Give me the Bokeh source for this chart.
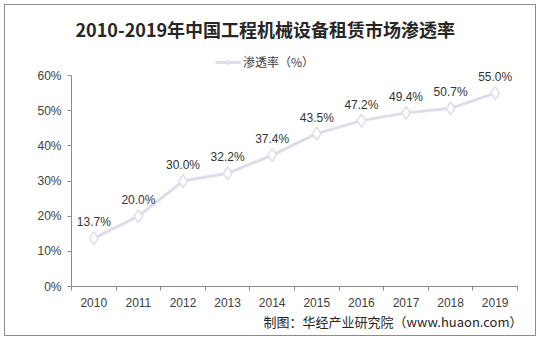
from bokeh.plotting import figure
from bokeh.models import (ColumnDataSource, FixedTicker, NumeralTickFormatter, Range1d,
                          Label, Legend, LegendItem, Title)
from bokeh.embed import file_html
from bokeh.resources import INLINE

years = ["2010", "2011", "2012", "2013", "2014", "2015", "2016", "2017", "2018", "2019"]
rate = [13.7, 20.0, 30.0, 32.2, 37.4, 43.5, 47.2, 49.4, 50.7, 55.0]
title = "2010-2019年中国工程机械设备租赁市场渗透率"
series_name = "渗透率（%）"
source_note = "制图：华经产业研究院（www.huaon.com）"

xs = list(range(len(years)))
src = ColumnDataSource(dict(x=xs, y=[v / 100 for v in rate]))

W, H = 532, 332
TOP = 42
BOTTOM = 51
p = figure(width=W, height=H, output_backend="svg", toolbar_location=None,
           x_range=Range1d(-0.5, len(years) - 0.5), y_range=Range1d(0, 0.68),
           min_border_left=66, min_border_right=20, min_border_top=TOP, min_border_bottom=BOTTOM)
p.styles = {"margin-left": "4px", "margin-top": "4px", "border": "1px solid #8c8c8c"}
p.outline_line_color = None
p.xgrid.grid_line_color = None
p.ygrid.grid_line_color = None

p.title.text = title
p.title.align = "left"
p.title.offset = 4
p.title.text_font = "Noto Sans CJK SC"
p.title.text_font_style = "bold"
p.title.text_font_size = "18px"
p.title.text_color = "#262626"
p.title.standoff = 11

line_col = "#dcdde9"
r_line = p.line("x", "y", source=src, line_color=line_col, line_width=3)
r_mark = p.scatter("x", "y", source=src, marker="diamond", size=13,
                   fill_color="white", line_color=line_col, line_width=1.5)

for xi, v in zip(xs, rate):
    p.add_layout(Label(x=xi, y=v / 100, y_offset=9, text=f"{v:.1f}%",
                       text_align="center", text_baseline="bottom",
                       text_font="Liberation Sans", text_font_size="12px",
                       text_color="#333333"))

# axes
xa = p.xaxis[0]
xa.ticker = FixedTicker(ticks=xs, minor_ticks=[i - 0.5 for i in range(len(years) + 1)])
xa.major_label_overrides = {i: y for i, y in enumerate(years)}
xa.major_tick_line_color = None
xa.minor_tick_line_color = "#898989"
xa.minor_tick_out = 4
xa.minor_tick_in = 0
xa.axis_line_color = "#898989"
xa.major_label_text_font = "Liberation Sans"
xa.major_label_text_font_size = "12px"
xa.major_label_text_color = "#404040"
xa.major_label_standoff = 5

ya = p.yaxis[0]
ya.ticker = FixedTicker(ticks=[i / 10 for i in range(7)], minor_ticks=[])
ya.bounds = (0, 0.6)
ya.formatter = NumeralTickFormatter(format="0%")
ya.axis_line_color = "#898989"
ya.major_tick_line_color = "#898989"
ya.major_tick_out = 4
ya.major_tick_in = 0
ya.major_label_text_font = "Liberation Sans"
ya.major_label_text_font_size = "12px"
ya.major_label_text_color = "#404040"
ya.major_label_standoff = 6

fb = H - BOTTOM
fl = 66
legend = Legend(items=[LegendItem(label=series_name, renderers=[r_line, r_mark])],
                location=(210 - fl, fb - 65), label_text_font="Noto Sans CJK SC",
                label_text_font_size="12px", label_text_color="#404040",
                border_line_color=None, background_fill_alpha=0,
                glyph_width=26, glyph_height=12, padding=0, margin=0,
                label_standoff=2, label_height=12)
p.add_layout(legend, "center")

note = Title(text=source_note, align="right", text_font="Noto Sans CJK SC",
             text_font_size="13px", text_font_style="normal", text_color="#262626",
             standoff=0, offset=-5)
p.add_layout(note, "below")

open("out.html", "w").write(file_html(p, INLINE))
